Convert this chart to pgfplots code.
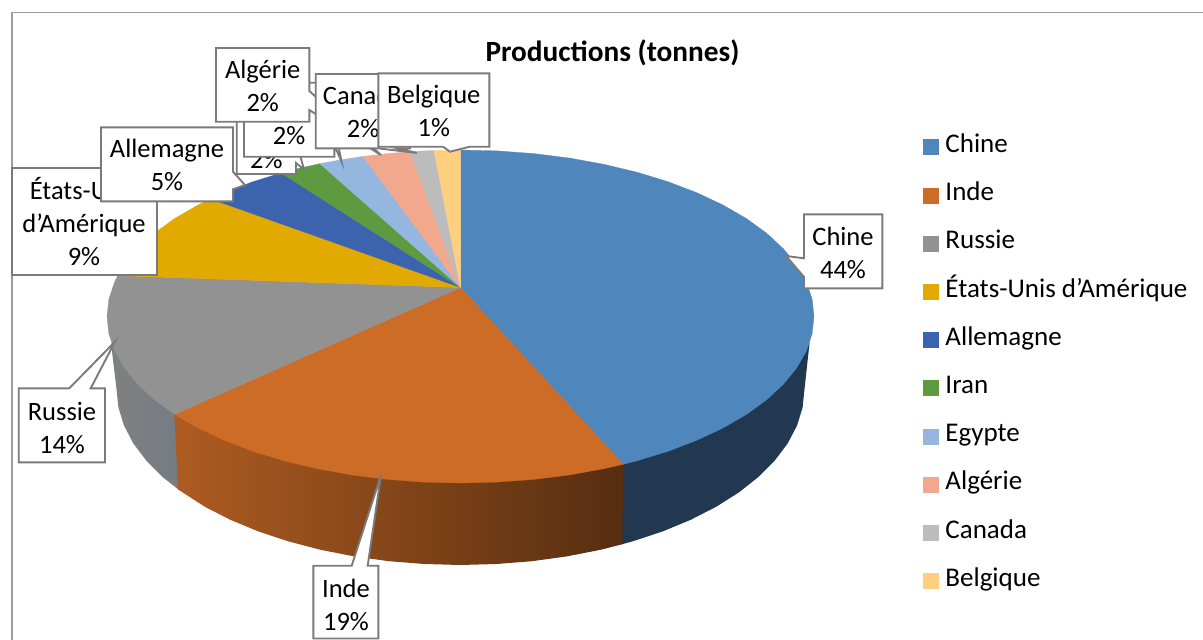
\documentclass[border=0pt]{standalone}
\usepackage{fontspec}
\setmainfont{Carlito}
\usepackage{pgfplots}
\pgfplotsset{compat=1.18}

\definecolor{cChine}{HTML}{4F86BB}
\definecolor{cInde}{HTML}{CD6C27}
\definecolor{cRussie}{HTML}{929292}
\definecolor{cUSA}{HTML}{E2A900}
\definecolor{cAllemagne}{HTML}{3B63AE}
\definecolor{cIran}{HTML}{5E9A3F}
\definecolor{cEgypte}{HTML}{95B7DF}
\definecolor{cAlgerie}{HTML}{F1A88D}
\definecolor{cCanada}{HTML}{BCBCBC}
\definecolor{cBelgique}{HTML}{FFCF80}
\definecolor{cBorder}{HTML}{7A7A7A}
\definecolor{cFrame}{HTML}{9C9C9C}
\definecolor{cRimChine}{HTML}{223850}
\definecolor{cRimRussieA}{HTML}{808080}
\definecolor{cRimRussieM}{HTML}{7B7B7B}
\definecolor{cRimRussieB}{HTML}{747C84}

\newcommand{\labelfont}{\fontsize{26.5}{33}\selectfont}
\newcommand{\legendfont}{\fontsize{27}{33}\selectfont}
\newcommand{\titlefont}{\fontsize{29.3}{33}\selectfont\bfseries}

\tikzset{
  slice/.style={fill=#1, draw=#1, line width=0.3pt},
  calloutlabel/.style={align=center, font=\labelfont, text=black, inner sep=0pt},
}
\pgfplotsset{
  callout/.style={forget plot, fill=white, draw=cBorder, line width=1.9pt, line join=miter},
}

\begin{document}
\begin{tikzpicture}
\useasboundingbox (0,0) rectangle (1203pt,640pt);
\begin{axis}[
  at={(0,0)}, anchor=south west,
  scale only axis, width=1203pt, height=640pt,
  xmin=0, xmax=1203, ymin=0, ymax=640, y dir=reverse,
  hide axis,
  legend cell align=left,
  legend image code/.code={\fill[#1] (0pt,-7.5pt) rectangle (15pt,7.5pt);},
  legend style={
    at={(0.7672,0.7885)}, anchor=north west,
    draw=none, fill=none, inner sep=0pt,
    font=\legendfont, row sep=25.2pt,
    nodes={inner sep=0pt, text height=17pt, text depth=6pt},
    /tikz/every odd column/.append style={column sep=7pt},
  },
]

% chart frame (open on the right and at the bottom)
\addplot[draw=cFrame, line width=1.5pt, forget plot] coordinates {(12,640) (12,12.5) (1203,12.5)};

% rim of the disc, visible only on the near side
\addplot[fill=cRimChine, draw=none, forget plot] coordinates {
  (809.6,342.5) (804.5,389) (802.6,407.4) (797.0,425.6) (787.7,443.4) (774.7,460.6)
  (758.4,477.0) (738.8,492.5) (716.1,506.8) (690.7,519.8) (662.7,531.4) (632.5,541.4)
  (621.5,544.4) (622.0,464.0)} --cycle;
\addplot[draw=none, forget plot, left color=cRimRussieA, middle color=cRimRussieM, right color=cRimRussieB] coordinates {
  (179,490.0) (162.6,477.0) (146.3,460.6) (133.3,443.4) (124.0,425.6) (118.4,407.4)
  (116.5,389) (111,343) (175.5,415.0)} --cycle;
\addplot[draw=none, forget plot, left color=cInde!85!black, right color=cInde!42!black] coordinates {
  (622.5,544.2) (600.4,549.8) (566.8,556.4) (532.0,561.2) (496.5,564.0) (460.5,565.0)
  (424.5,564.0) (389.0,561.2) (354.2,556.4) (320.6,549.8) (288.5,541.4) (258.3,531.4)
  (230.3,519.8) (204.9,506.8) (178,489.4) (174.5,414.4) (623.1,464.3)} --cycle;

% top face, one wedge per country, clockwise from twelve o'clock
\addplot[slice=cChine] coordinates {
  (460.5,287.5) (460.5,150.0) (497.4,150.9) (534.0,153.6) (569.7,158.1) (604.3,164.4)
  (637.3,172.3) (668.3,181.8) (697.0,192.8) (723.2,205.1) (746.5,218.6) (766.6,233.2)
  (783.4,248.8) (796.7,265.1) (806.3,281.9) (812.1,299.1) (814.0,316.5) (812.1,333.9)
  (806.3,351.1) (796.7,367.9) (783.4,384.2) (766.6,399.8) (746.5,414.4) (723.2,427.9)
  (697.0,440.2) (668.3,451.2) (637.3,460.7) (623.1,464.3)} --cycle;
\addlegendentry{Chine}
\addplot[slice=cInde] coordinates {
  (460.5,287.5) (623.1,464.3) (604.3,468.6) (569.7,474.9) (534.0,479.4) (497.4,482.1)
  (460.5,483.0) (423.6,482.1) (387.0,479.4) (351.3,474.9) (316.7,468.6) (283.7,460.7)
  (252.7,451.2) (224.0,440.2) (197.8,427.9) (174.5,414.4)} --cycle;
\addlegendentry{Inde}
\addplot[slice=cRussie] coordinates {
  (460.5,287.5) (174.5,414.4) (154.4,399.8) (137.6,384.2) (124.3,367.9) (114.7,351.1)
  (108.9,333.9) (107.0,316.5) (108.9,299.1) (114.7,281.9) (117.8,275.6)} --cycle;
\addlegendentry{Russie}
\addplot[slice=cUSA] coordinates {
  (460.5,287.5) (117.8,275.6) (124.3,265.1) (137.6,248.8) (154.4,233.2) (174.5,218.6)
  (197.8,205.1) (210.5,198.8)} --cycle;
\addlegendentry{États-Unis d’Amérique}
\addplot[slice=cAllemagne] coordinates {
  (460.5,287.5) (210.5,198.8) (224.0,192.8) (252.7,181.8) (281.1,173.0)} --cycle;
\addlegendentry{Allemagne}
\addplot[slice=cIran] coordinates {
  (460.5,287.5) (281.1,173.0) (300.0,168.1) (319.9,163.7)} --cycle;
\addlegendentry{Iran}
\addplot[slice=cEgypte] coordinates {
  (460.5,287.5) (319.9,163.7) (339.6,160.0) (363.1,156.4)} --cycle;
\addlegendentry{Egypte}
\addplot[slice=cAlgerie] coordinates {
  (460.5,287.5) (363.1,156.4) (387.0,153.6) (410.1,151.7)} --cycle;
\addlegendentry{Algérie}
\addplot[slice=cCanada] coordinates {
  (460.5,287.5) (410.1,151.7) (423.6,150.9) (434.0,150.5)} --cycle;
\addlegendentry{Canada}
\addplot[slice=cBelgique] coordinates {
  (460.5,287.5) (434.0,150.5) (460.5,150.0)} --cycle;
\addlegendentry{Belgique}

% title
\node[font=\titlefont, inner sep=0pt] at (axis cs:612.5,53) {Productions (tonnes)};

% data labels, each a callout pointing at its wedge
\addplot[callout] coordinates {(12,168.3) (156.7,168.3) (156.7,275) (12,275)} --cycle;
\node[calloutlabel] at (axis cs:84,221.5) {États-Unis\\d’Amérique\\9\%};

\addplot[callout] coordinates {(18.7,388.3) (69.3,388.3) (115,341.7) (90.7,388.3) (105,388.3) (105,462.3) (18.7,462.3)} --cycle;
\node[calloutlabel] at (axis cs:62,427.5) {Russie\\14\%};

\addplot[callout] coordinates {(313.3,565.7) (351.7,565.7) (381,475) (367.7,565.7) (378.3,565.7) (378.3,638.5) (313.3,638.5)} --cycle;
\node[calloutlabel] at (axis cs:346,604.5) {Inde\\19\%};

\addplot[callout] coordinates {(804,214.3) (882.3,214.3) (882.3,288.3) (804,288.3) (804,277) (786,256) (804,258.3)} --cycle;
\node[calloutlabel] at (axis cs:843,253) {Chine\\44\%};

\addplot[callout] coordinates {(101,127.3) (233,127.3) (233,171.7) (245,185) (233,189.3) (233,201.3) (101,201.3)} --cycle;
\node[calloutlabel] at (axis cs:167,165) {Allemagne\\5\%};

\addplot[callout] coordinates {(236.7,100) (296,100) (296,140) (304,169.5) (296,163) (296,174) (236.7,174)} --cycle;
\node[calloutlabel] at (axis cs:266.4,143.5) {Iran\\2\%};

\addplot[callout] coordinates {(244,82.7) (334.3,82.7) (334.3,125) (341.5,161.5) (334.3,145) (334.3,156.7) (244,156.7)} --cycle;
\node[calloutlabel] at (axis cs:289,120) {Egypte\\2\%};

\addplot[callout] coordinates {(216,48) (309.3,48) (309.3,91) (381,155) (309.3,110) (309.3,121.7) (216,121.7)} --cycle;
\node[calloutlabel] at (axis cs:262.7,86) {Algérie\\2\%};

\addplot[callout] coordinates {(315.7,74) (410,74) (410,148.3) (397,148.3) (417,153) (378,148.3) (315.7,148.3)} --cycle;
\node[calloutlabel] at (axis cs:363,112) {Canada\\2\%};

\addplot[callout] coordinates {(378.3,73.3) (489.3,73.3) (489.3,146.7) (470,146.7) (450,151.7) (443,146.7) (378.3,146.7)} --cycle;
\node[calloutlabel] at (axis cs:433.8,111) {Belgique\\1\%};

\end{axis}
\end{tikzpicture}
\end{document}
